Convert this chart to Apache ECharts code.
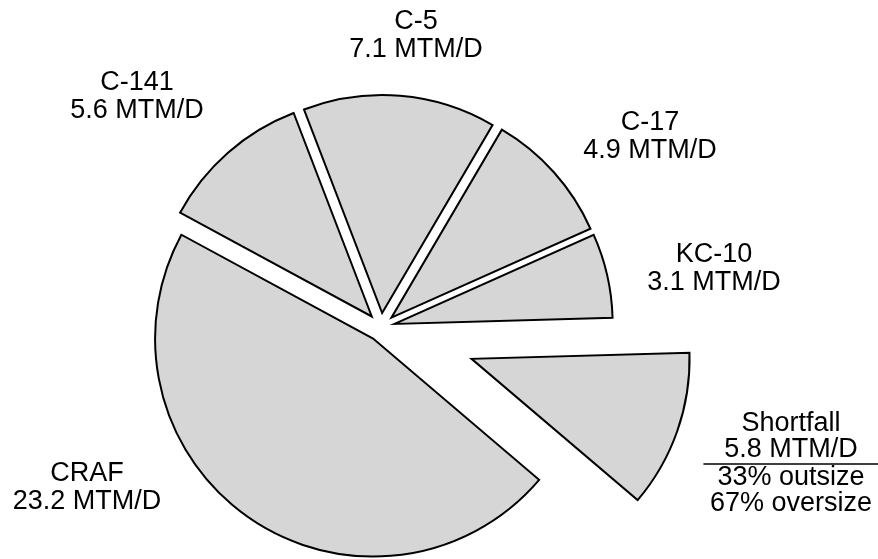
<!DOCTYPE html>
<html>
<head>
<meta charset="utf-8">
<script src="https://cdn.jsdelivr.net/npm/echarts@6/dist/echarts.min.js"></script>
<style>
  html, body { margin: 0; padding: 0; background: #fff; }
  #chart { width: 878px; height: 559px; }
</style>
</head>
<body>
<div id="chart"></div>
<script>
// airlift capacity, million ton-miles per day
var categories = ['C-5', 'C-17', 'KC-10', 'Shortfall', 'CRAF', 'C-141'];
var mtmPerDay = [7.1, 4.9, 3.1, 5.8, 23.2, 5.6];
var shortfallShare = [33, 67];
var shortfallKinds = ['outsize', 'oversize'];

var FONT = '"Liberation Sans", Arial, Helvetica, sans-serif';
var FILL = '#d6d6d6';
var bigSlice = 'Shortfall';

// label centres, px
var labelAt = {
  'C-5': [416, 36],
  'C-17': [650, 137],
  'KC-10': [714, 269],
  'Shortfall': [791, 464],
  'CRAF': [87, 488],
  'C-141': [137, 97]
};

var sliceStyle = {
  color: FILL,
  borderColor: '#000',
  borderWidth: 2,
  borderJoin: 'miter',
  borderMiterLimit: 10
};
var hiddenStyle = { color: 'rgba(0,0,0,0)', borderWidth: 0 };

function labelText(i) {
  var s = categories[i] + '\n' + mtmPerDay[i] + ' MTM/D';
  if (categories[i] === bigSlice) {
    s += '\n{hr|}';
    for (var k = 0; k < shortfallShare.length; k++) {
      s += '\n' + shortfallShare[k] + '% ' + shortfallKinds[k];
    }
  }
  return s;
}

function makeData(wantBig) {
  return categories.map(function (name, i) {
    var visible = (name === bigSlice) === wantBig;
    if (!visible) {
      return {
        name: name, value: mtmPerDay[i],
        itemStyle: hiddenStyle,
        select: { itemStyle: hiddenStyle }
      };
    }
    return {
      name: name, value: mtmPerDay[i],
      selected: true,
      itemStyle: sliceStyle,
      select: { itemStyle: sliceStyle }
    };
  });
}

function makeSeries(wantBig, offset) {
  return {
    type: 'pie',
    center: [381, 327],
    radius: [0, 218],
    startAngle: 111,
    clockwise: true,
    selectedMode: 'multiple',
    selectedOffset: offset,
    animation: false,
    emphasis: { disabled: true },
    label: { show: false },
    labelLine: { show: false },
    data: makeData(wantBig)
  };
}

var labels = categories.map(function (name, i) {
  var p = labelAt[name];
  return {
    type: 'text',
    x: p[0],
    y: p[1],
    silent: true,
    style: {
      text: labelText(i),
      fill: '#000',
      fontFamily: FONT,
      fontSize: 27,
      lineHeight: name === bigSlice ? 26 : 28,
      align: 'center',
      verticalAlign: 'middle',
      textAlign: 'center',
      textVerticalAlign: 'middle',
      rich: {
        hr: { width: 175, height: 0, borderColor: '#000', borderWidth: 1, lineHeight: 2 }
      }
    }
  };
});

var chart = echarts.init(document.getElementById('chart'), null, { renderer: 'canvas' });
chart.setOption({
  backgroundColor: '#fff',
  animation: false,
  series: [makeSeries(false, 14), makeSeries(true, 96)],
  graphic: labels
});
</script>
</body>
</html>
